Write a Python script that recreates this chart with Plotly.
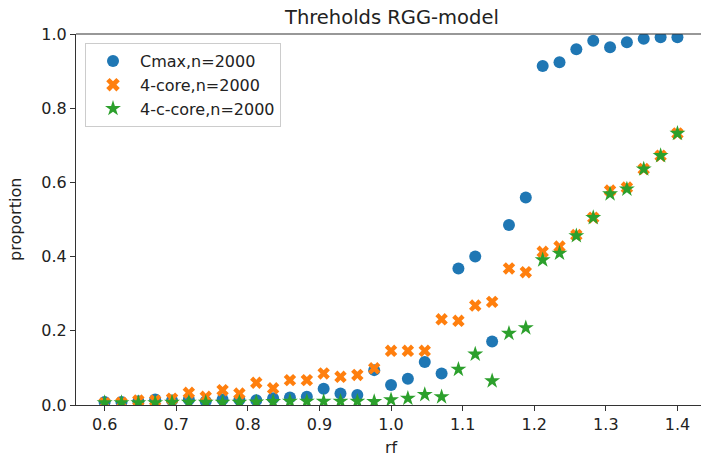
import plotly.graph_objects as go

rf = [0.6000, 0.6235, 0.6471, 0.6706, 0.6941, 0.7176, 0.7412, 0.7647, 0.7882,
      0.8118, 0.8353, 0.8588, 0.8824, 0.9059, 0.9294, 0.9529, 0.9765, 1.0000,
      1.0235, 1.0471, 1.0706, 1.0941, 1.1176, 1.1412, 1.1647, 1.1882, 1.2118,
      1.2353, 1.2588, 1.2824, 1.3059, 1.3294, 1.3529, 1.3765, 1.4000]

cmax = [0.008, 0.008, 0.010, 0.015, 0.012, 0.015, 0.010, 0.015, 0.014,
        0.013, 0.018, 0.020, 0.022, 0.044, 0.031, 0.027, 0.094, 0.054,
        0.071, 0.116, 0.085, 0.368, 0.400, 0.171, 0.485, 0.559, 0.914,
        0.924, 0.959, 0.982, 0.964, 0.978, 0.987, 0.991, 0.991]

core4 = [0.005, 0.006, 0.012, 0.012, 0.017, 0.033, 0.022, 0.040, 0.031,
         0.060, 0.045, 0.067, 0.067, 0.085, 0.076, 0.081, 0.099, 0.146,
         0.146, 0.146, 0.231, 0.227, 0.268, 0.278, 0.368, 0.358, 0.413,
         0.427, 0.458, 0.505, 0.578, 0.586, 0.636, 0.672, 0.732]

ccore4 = [0.006, 0.006, 0.006, 0.006, 0.007, 0.007, 0.007, 0.007, 0.007,
          0.008, 0.009, 0.010, 0.010, 0.010, 0.010, 0.010, 0.009, 0.014,
          0.018, 0.028, 0.022, 0.096, 0.137, 0.065, 0.193, 0.208, 0.391,
          0.409, 0.456, 0.505, 0.569, 0.582, 0.636, 0.672, 0.732]

xticks = [0.6, 0.7, 0.8, 0.9, 1.0, 1.1, 1.2, 1.3, 1.4]
yticks = [0.0, 0.2, 0.4, 0.6, 0.8, 1.0]

FONT = "DejaVu Sans"
TXT = "#222222"
FS = 16

fig = go.Figure()
fig.add_trace(go.Scatter(x=rf, y=cmax, mode="markers", name="Cmax,n=2000",
                         marker=dict(symbol="circle", size=12, color="#1f77b4", line=dict(width=0))))
fig.add_trace(go.Scatter(x=rf, y=core4, mode="markers", name="4-core,n=2000",
                         marker=dict(symbol="x", size=11, color="#ff7f0e", line=dict(width=0))))
fig.add_trace(go.Scatter(x=rf, y=ccore4, mode="markers", name="4-c-core,n=2000",
                         marker=dict(symbol="star", size=12, color="#2ca02c", line=dict(width=0))))

L, T, B = 76, 34, 56
W, H = 701, 461
plot_w = W - L
plot_h = H - T - B
px_per_unit = 716.0
xmin = 0.56
xmax = xmin + plot_w / px_per_unit

fig.update_layout(
    width=W, height=H,
    margin=dict(l=L, r=0, t=T, b=B, pad=0),
    paper_bgcolor="white", plot_bgcolor="white",
    font=dict(family=FONT, size=FS, color=TXT),
    showlegend=True,
    legend=dict(x=(85 - L) / plot_w, y=1 - (43 - T) / plot_h, xanchor="left", yanchor="top",
                bgcolor="rgba(255,255,255,0.8)", bordercolor="#cccccc", borderwidth=1,
                font=dict(family=FONT, size=FS, color=TXT), itemsizing="constant",
                itemwidth=44, tracegroupgap=0),
    xaxis=dict(range=[xmin, xmax], tickvals=xticks, ticktext=[f"{v:.1f}" for v in xticks],
               showgrid=False, zeroline=False, showline=True, linecolor="#333333", linewidth=1.2,
               ticks="outside", ticklen=5, tickcolor="#333333", tickwidth=1,
               tickfont=dict(family=FONT, size=FS, color=TXT)),
    yaxis=dict(range=[0, 1], tickvals=yticks, ticktext=[f"{v:.1f}" for v in yticks],
               showgrid=False, zeroline=False, showline=True, linecolor="#333333", linewidth=1.2,
               ticks="outside", ticklen=5, tickcolor="#333333", tickwidth=1,
               tickfont=dict(family=FONT, size=FS, color=TXT)),
    shapes=[dict(type="line", xref="paper", yref="paper", x0=0, x1=1, y0=1, y1=1,
                 line=dict(color="#333333", width=1.2))],
    annotations=[
        dict(text="Threholds RGG-model", xref="paper", yref="paper",
             x=(391 - L) / plot_w, y=1, yshift=3, xanchor="center", yanchor="bottom",
             showarrow=False, font=dict(family=FONT, size=19.5, color=TXT)),
        dict(text="rf", xref="paper", yref="paper", x=(391 - L) / plot_w, y=0,
             yshift=-31, xanchor="center", yanchor="top", showarrow=False,
             font=dict(family=FONT, size=FS, color=TXT)),
        dict(text="proportion", xref="paper", yref="paper", x=0, y=0.5, xshift=-49,
             xanchor="right", yanchor="middle", textangle=-90, showarrow=False,
             font=dict(family=FONT, size=FS, color=TXT)),
    ],
)

fig.write_html("out.html")
